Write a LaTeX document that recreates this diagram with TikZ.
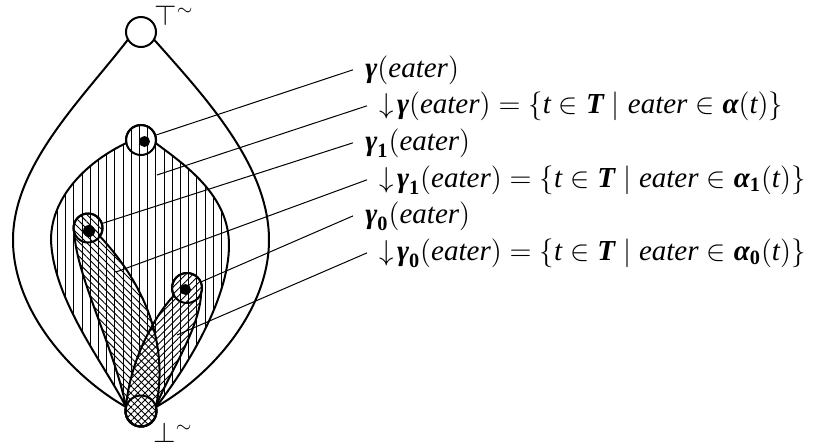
\documentclass[tikz,border=0pt]{standalone}
\usepackage{amsmath}
\usepackage{fontspec}
\setmainfont{Liberation Serif}
\usetikzlibrary{patterns.meta}
\newcommand\bi[1]{\text{\bfseries\itshape #1}}
\newcommand\ii[1]{\text{\itshape #1}}
\newcommand\bsub[1]{_{\text{\bfseries #1}}}
\newcommand\dn{{\downarrow}\mkern2mu}
\newcommand\tld{\raisebox{0.34em}{\fontsize{10}{10}\selectfont$\sim$}}
\tikzset{
  outline/.style={line width=1pt},
  conn/.style={line width=0.5pt},
  circ/.style={circle, draw, line width=1pt, inner sep=0pt},
  dotn/.style={circle, fill=black, inner sep=0pt, minimum size=5.5pt},
  lab/.style={inner xsep=6pt, inner ysep=0pt, anchor=base west, font=\fontsize{14.5}{17}\selectfont},
  sym/.style={inner sep=0pt, anchor=base west, font=\fontsize{13.5}{16}\selectfont},
  vhatch/.style={pattern={Lines[angle=90,distance=4.1pt,line width=0.45pt]}},
  nehatch/.style={pattern={Lines[angle=45,distance=2.5pt,line width=0.45pt]}},
  nwhatch/.style={pattern={Lines[angle=-45,distance=2.5pt,line width=0.45pt]}}
}
\def\midpath{(126.3,-143.1) .. controls (90,-160) and (51,-195) .. (51,-240) .. controls (53,-300) and (105,-365) .. (126.0,-407.0) arc[start angle=165, end angle=375, radius=15.5] .. controls (185,-370) and (229,-300) .. (229,-245) .. controls (229,-195) and (185,-165) .. (155.7,-143.1) arc[start angle=-12, end angle=192, radius=15] -- cycle}
\def\gapath{(74.4,-233.0) .. controls (76,-275) and (115,-350) .. (126.0,-407.0) arc[start angle=165, end angle=375, radius=15.5] .. controls (168,-350) and (150,-290) .. (99.9,-236.3) arc[start angle=-35, end angle=200, radius=14.5] -- cycle}
\def\gbpath{(174.0,-295.5) .. controls (155,-315) and (130,-360) .. (126.0,-407.0) arc[start angle=165, end angle=375, radius=15.5] .. controls (165,-380) and (200,-330) .. (201.1,-293.1) arc[start angle=-20, end angle=210, radius=15] -- cycle}
\begin{document}
\begin{tikzpicture}[x=0.5pt, y=0.5pt]
\useasboundingbox (0,0) rectangle (814,-446);
% hatched regions
\fill[vhatch] \midpath;
\fill[nwhatch] \gapath;
\fill[nehatch] \gbpath;
\begin{scope}
  \clip \gapath;
  \fill[white] \gbpath;
  \fill[nehatch] \gbpath;
  \fill[nwhatch] \gbpath;
\end{scope}
% outlines
\draw[outline] (128,-39.5) .. controls (83,-98) and (13,-165) .. (13,-240) .. controls (13,-310) and (70,-375) .. (126,-407);
\draw[outline] (154,-39.5) .. controls (204,-96) and (269,-165) .. (269,-240) .. controls (269,-310) and (212,-375) .. (156,-407);
\draw[outline] \midpath;
\draw[outline] \gapath;
\draw[outline] \gbpath;
% circles
\node[circ, fill=white, minimum size=15pt] (top) at (141,-32) {};
\node[circ, minimum size=15.5pt] (bot) at (141,-411) {};
\node[circ, minimum size=15pt] (g) at (141,-140) {};
\node[circ, minimum size=14.5pt] (ga) at (88,-228) {};
\node[circ, minimum size=15pt] (gb) at (187,-288) {};
\node[dotn] (gd) at (144.5,-141.5) {};
\node[dotn, minimum size=6pt] (gad) at (89,-231) {};
\node[dotn] (gbd) at (185.5,-289.5) {};
% symbols
\node[sym] (tl) at (154,-25) {$\top$\tld};
\node[sym] (bl) at (153,-442) {$\bot$\tld};
% labels
\node[lab] (l1) at (353,-77) {$\bi{γ}(\ii{eater})$};
\node[lab] (l2) at (367,-113) {$\dn\bi{γ}(\ii{eater}) = \{\ii{t} \in \bi{T} \mid \ii{eater} \in \bi{α}(\ii{t})\}$};
\node[lab] (l3) at (353,-150) {$\bi{γ}\bsub{1}(\ii{eater})$};
\node[lab] (l4) at (367,-187) {$\dn\bi{γ}\bsub{1}(\ii{eater}) = \{\ii{t} \in \bi{T} \mid \ii{eater} \in \bi{α}\bsub{1}(\ii{t})\}$};
\node[lab] (l5) at (353,-223) {$\bi{γ}\bsub{0}(\ii{eater})$};
\node[lab] (l6) at (367,-260) {$\dn\bi{γ}\bsub{0}(\ii{eater}) = \{\ii{t} \in \bi{T} \mid \ii{eater} \in \bi{α}\bsub{0}(\ii{t})\}$};
% connector ends
\coordinate (e2) at (157,-175);
\coordinate (e4) at (116,-272);
\coordinate (e6) at (177,-335);
\draw[conn] (l1.west) -- (g);
\draw[conn] (l2.west) -- (e2);
\draw[conn] (l3.west) -- (ga);
\draw[conn] (l4.west) -- (e4);
\draw[conn] (l5.west) -- (gb);
\draw[conn] (l6.west) -- (e6);
\end{tikzpicture}
\end{document}
